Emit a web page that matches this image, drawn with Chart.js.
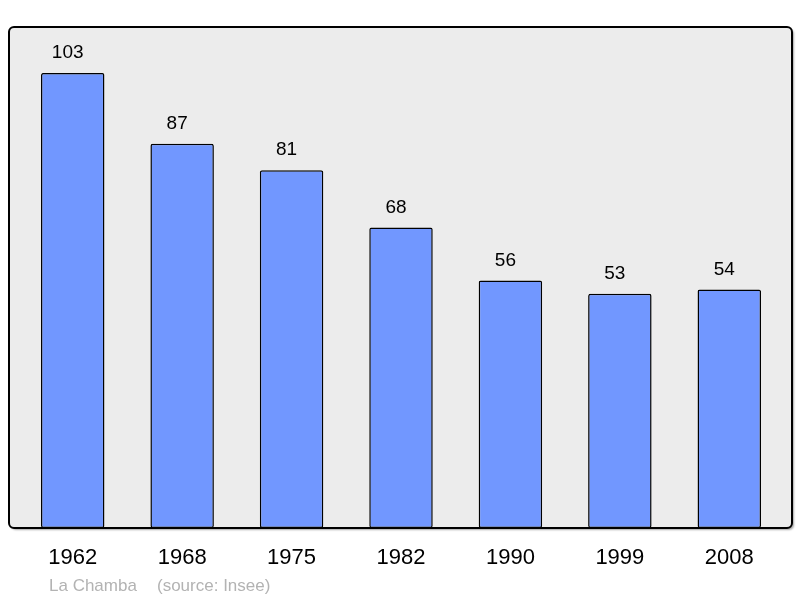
<!DOCTYPE html>
<html>
<head>
<meta charset="utf-8">
<script src="https://cdn.jsdelivr.net/npm/chart.js@4"></script>
<style>
    body { margin: 0; background: #fff; }
    canvas { display: block; }
</style>
</head>
<body>
<canvas id="chart-pop" width="800" height="598"></canvas>
<script>
// Bevölkerung La Chamba
const years = ['1962', '1968', '1975', '1982', '1990', '1999', '2008'];
const population = [103, 87, 81, 68, 56, 53, 54];
const commune = 'La Chamba';
const source = '(source: Insee)';

const FONT = "'Liberation Sans', Arial, sans-serif";

// Grauer Kasten hinter den Balken
const boxPlugin = {
    id: 'box',
    beforeDraw(chart) {
        const { ctx, chartArea } = chart;
        const x = chartArea.left - 9, y = chartArea.top;
        const w = chartArea.right + 8 - x, h = chartArea.bottom - y;
        ctx.save();
        ctx.shadowColor = 'rgba(0,0,0,0.35)';
        ctx.shadowOffsetX = 2;
        ctx.shadowOffsetY = 2;
        ctx.shadowBlur = 2;
        ctx.beginPath();
        ctx.roundRect(x, y, w, h, 5);
        ctx.fillStyle = '#ececec';
        ctx.fill();
        ctx.shadowColor = 'transparent';
        ctx.lineWidth = 2;
        ctx.strokeStyle = '#000';
        ctx.stroke();
        ctx.restore();
    }
};

// Werte über den Balken + Fußzeile
const labelPlugin = {
    id: 'labels',
    afterDatasetsDraw(chart) {
        const { ctx } = chart;
        const meta = chart.getDatasetMeta(0);
        ctx.save();
        ctx.font = '19px ' + FONT;
        ctx.fillStyle = '#000';
        ctx.textAlign = 'center';
        ctx.textBaseline = 'middle';
        meta.data.forEach((bar, i) => {
            ctx.fillText(String(population[i]), bar.x - 5, bar.y - 20);
        });
        ctx.font = '17px ' + FONT;
        ctx.fillStyle = '#b3b3b3';
        ctx.textAlign = 'left';
        ctx.fillText(commune, 49, 586);
        ctx.fillText(source, 157, 586);
        ctx.restore();
    }
};

new Chart(document.getElementById('chart-pop'), {
    type: 'bar',
    data: {
        labels: years,
        datasets: [{
            data: population,
            backgroundColor: '#7197ff',
            borderColor: '#000',
            borderWidth: 1.5,
            borderRadius: 2,
            borderSkipped: false,
            categoryPercentage: 1,
            barPercentage: 0.58
        }]
    },
    options: {
        responsive: false,
        animation: false,
        layout: { padding: { left: 18, right: 16, top: 27, bottom: 0 } },
        plugins: {
            legend: { display: false },
            tooltip: { enabled: false }
        },
        scales: {
            x: {
                grid: { display: false },
                border: { display: false },
                ticks: {
                    color: '#000',
                    padding: 9,
                    font: { family: FONT, size: 22 }
                },
                afterFit: (scale) => { scale.height = 70; }
            },
            y: {
                display: false,
                min: 0,
                max: 113.4
            }
        }
    },
    plugins: [boxPlugin, labelPlugin]
});
</script>
</body>
</html>
